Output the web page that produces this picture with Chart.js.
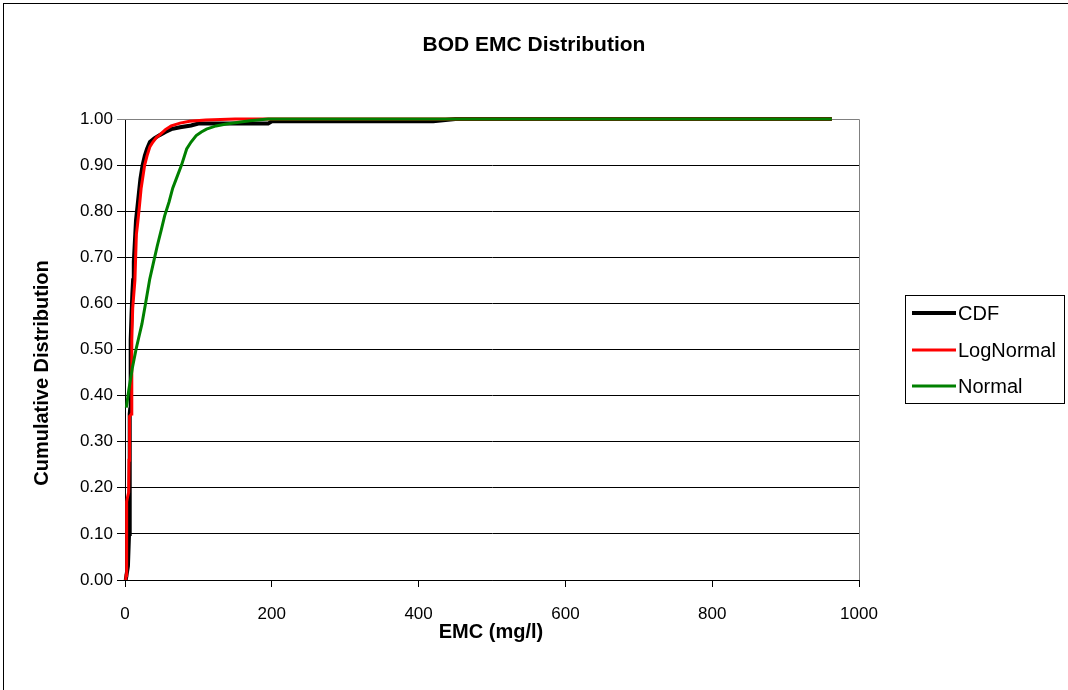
<!DOCTYPE html>
<html><head><meta charset="utf-8">
<script src="https://cdn.jsdelivr.net/npm/chart.js@4.4.1/dist/chart.umd.min.js"></script>
<style>html,body{margin:0;padding:0;background:#fff;overflow:hidden}#wrap{width:1068px;height:690px;position:relative}</style>
</head><body><div id="wrap"><canvas id="c" width="1068" height="690"></canvas></div>
<script>
const chartTitle = "BOD EMC Distribution";
const xTitle = "EMC (mg/l)";
const yTitle = "Cumulative Distribution";
const seriesNames = ["CDF", "LogNormal", "Normal"];
const seriesColors = ["#000000", "#FF0000", "#008000"];
const xTicks = [0, 200, 400, 600, 800, 1000];
const yTicks = [0, 0.1, 0.2, 0.3, 0.4, 0.5, 0.6, 0.7, 0.8, 0.9, 1.0];

const cdfX = [1, 2, 4, 5.5, 6, 6.5, 6.8, 7, 7.5, 8, 9, 10, 11, 12, 13, 14, 15, 17, 19, 21, 24, 27, 30, 34, 40, 47, 55, 63, 75, 90, 100, 195, 200, 420, 450, 963];
const cdfY = [0, 0.01, 0.03, 0.1, 0.2, 0.3, 0.36, 0.37, 0.45, 0.52, 0.58, 0.62, 0.65, 0.69, 0.72, 0.75, 0.78, 0.81, 0.84, 0.87, 0.9, 0.92, 0.935, 0.95, 0.958, 0.965, 0.972, 0.978, 0.982, 0.986, 0.99, 0.99, 0.995, 0.995, 1.0, 1.0];

const logX = [1, 1.5, 2, 2.5, 3.5, 5, 5.5, 6, 6.5, 7.5, 8.5, 9, 9.5, 10.5, 12, 13.5, 14.5, 15.5, 17, 19, 22, 26.8, 30, 34, 38, 43, 47, 55, 63, 75, 88, 110, 150, 963];
const logY = [0, 0.01, 0.08, 0.17, 0.18, 0.19, 0.26, 0.33, 0.355, 0.357, 0.36, 0.45, 0.52, 0.59, 0.62, 0.65, 0.7, 0.75, 0.77, 0.8, 0.85, 0.9, 0.92, 0.94, 0.95, 0.96, 0.965, 0.977, 0.985, 0.991, 0.995, 0.998, 1.0, 1.0];

const normX = [1.8, 5, 10, 15, 18.6, 23, 28, 33.6, 39, 44, 49.5, 54, 60, 65, 71, 77, 84, 90, 97, 104, 111, 124, 138, 155, 170, 195, 963];
const normY = [0.374, 0.41, 0.46, 0.5, 0.525, 0.555, 0.6, 0.652, 0.69, 0.725, 0.76, 0.79, 0.82, 0.85, 0.875, 0.9, 0.935, 0.95, 0.964, 0.972, 0.978, 0.985, 0.989, 0.993, 0.996, 1.0, 1.0];

const FONT = "'Liberation Sans', Arial, sans-serif";
Chart.defaults.font.family = FONT;
Chart.defaults.color = "#000";

function pts(xs, ys) { return xs.map((x, i) => ({ x: x, y: ys[i] })); }
const allX = [cdfX, logX, normX];
const allY = [cdfY, logY, normY];
const widths = [4, 3, 3];
const orders = [3, 2, 1];

const datasets = seriesNames.map((n, i) => ({
  label: n,
  data: pts(allX[i], allY[i]),
  borderColor: seriesColors[i],
  backgroundColor: seriesColors[i],
  borderWidth: widths[i],
  showLine: true,
  pointRadius: 0,
  tension: 0,
  order: orders[i],
  clip: 6
}));

const decor = {
  id: 'decor',
  beforeDatasetsDraw(chart) {
    const { ctx, chartArea: a } = chart;
    ctx.save();
    ctx.strokeStyle = '#808080';
    ctx.lineWidth = 1;
    ctx.beginPath();
    ctx.moveTo(a.left, a.top + 0.5);
    ctx.lineTo(a.right + 0.5, a.top + 0.5);
    ctx.lineTo(a.right + 0.5, a.bottom);
    ctx.stroke();
    ctx.restore();
  },
  afterDraw(chart) {
    const ctx = chart.ctx;
    ctx.save();
    ctx.strokeStyle = '#000';
    ctx.lineWidth = 1;
    ctx.strokeRect(3.5, 3.5, 1080, 700);
    ctx.fillStyle = '#000';
    ctx.textAlign = 'center';
    ctx.textBaseline = 'middle';
    ctx.font = "bold 21px " + FONT;
    ctx.fillText(chartTitle, 534, 45);
    ctx.font = "bold 20px " + FONT;
    ctx.fillText(xTitle, 491, 632);
    ctx.save();
    ctx.translate(42, 373);
    ctx.rotate(-Math.PI / 2);
    ctx.fillText(yTitle, 0, 0);
    ctx.restore();
    ctx.strokeStyle = '#000';
    ctx.strokeRect(905.5, 295.5, 159, 108);
    const ly = [313, 350, 386];
    ctx.textAlign = 'left';
    ctx.font = "20px " + FONT;
    seriesNames.forEach((n, i) => {
      ctx.strokeStyle = seriesColors[i];
      ctx.lineWidth = widths[i];
      ctx.beginPath();
      ctx.moveTo(912, ly[i]);
      ctx.lineTo(956, ly[i]);
      ctx.stroke();
      ctx.fillStyle = '#000';
      ctx.fillText(n, 958, ly[i] + 1);
    });
    ctx.restore();
  }
};

new Chart(document.getElementById('c'), {
  type: 'scatter',
  data: { datasets: datasets },
  options: {
    responsive: false,
    animation: false,
    devicePixelRatio: 1,
    layout: { padding: { left: 0, top: 119, right: 209, bottom: 0 } },
    plugins: { legend: { display: false }, tooltip: { enabled: false }, title: { display: false } },
    scales: {
      x: {
        type: 'linear', min: 0, max: 1000,
        afterBuildTicks: s => { s.ticks = xTicks.map(v => ({ value: v })); },
        afterFit: s => { s.height = 110; },
        ticks: { font: { size: 17 }, color: '#000', padding: 17, maxRotation: 0, autoSkip: false, callback: v => String(v) },
        grid: { drawOnChartArea: false, drawTicks: true, tickLength: 7, color: '#000', lineWidth: 1 },
        border: { color: '#000', width: 1 }
      },
      y: {
        type: 'linear', min: 0, max: 1,
        afterBuildTicks: s => { s.ticks = yTicks.map(v => ({ value: v })); },
        afterFit: s => { s.width = 125; },
        ticks: { font: { size: 17 }, color: '#000', padding: 4, autoSkip: false, callback: v => Number(v).toFixed(2) },
        grid: { drawTicks: true, tickLength: 8, color: ctx => (ctx.tick && ctx.tick.value === 1 ? '#808080' : '#000'), lineWidth: 1 },
        border: { color: '#000', width: 1 }
      }
    }
  },
  plugins: [decor]
});
</script>
</body></html>
